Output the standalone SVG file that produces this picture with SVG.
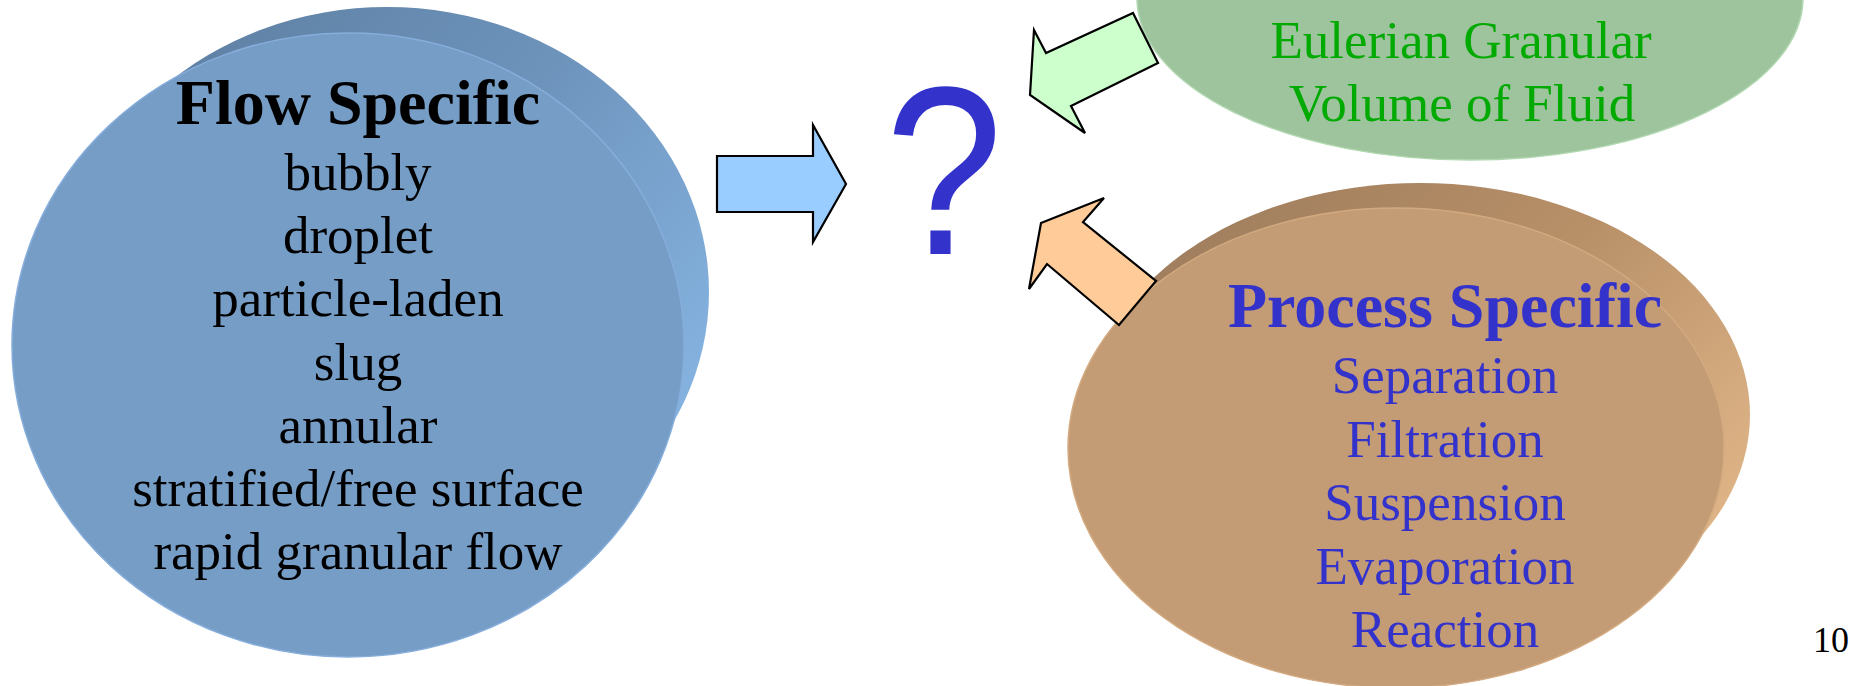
<svg xmlns="http://www.w3.org/2000/svg" width="1850" height="686" viewBox="0 0 1850 686">
  <style>
    .serif { font-family: "Liberation Serif", "Times New Roman", serif; text-anchor: middle; }
    .head { font-size: 64px; font-weight: bold; }
    .item { font-size: 53px; }
    .arrow { stroke: #000000; stroke-width: 2.2; stroke-linejoin: miter; }
  </style>
  <defs>
    <linearGradient id="blueSide" x1="0" y1="0" x2="1" y2="0.7">
      <stop offset="0" stop-color="#5a7a9c"/>
      <stop offset="0.55" stop-color="#6d93bb"/>
      <stop offset="1" stop-color="#86b4e2"/>
    </linearGradient>
    <linearGradient id="brownSide" x1="0" y1="0" x2="1" y2="0.7">
      <stop offset="0" stop-color="#98785a"/>
      <stop offset="0.55" stop-color="#b89068"/>
      <stop offset="1" stop-color="#e0b688"/>
    </linearGradient>
  </defs>

  <!-- Flow specific disk: side face behind, front face on top -->
  <g id="flow-specific">
    <ellipse cx="387" cy="292" rx="322" ry="285" fill="url(#blueSide)"/>
    <ellipse cx="348" cy="345" rx="336" ry="312" fill="#759dc6" stroke="#86addb" stroke-width="1.5"/>
    <g class="serif" fill="#000000">
      <text class="head" x="358" y="124">Flow Specific</text>
      <text class="item" x="358" y="190">bubbly</text>
      <text class="item" x="358" y="253">droplet</text>
      <text class="item" x="358" y="316">particle-laden</text>
      <text class="item" x="358" y="380">slug</text>
      <text class="item" x="358" y="443">annular</text>
      <text class="item" x="358" y="506">stratified/free surface</text>
      <text class="item" x="358" y="569">rapid granular flow</text>
    </g>
  </g>

  <!-- Model disk (top right) -->
  <g id="models">
    <ellipse cx="1470" cy="-2" rx="333" ry="162" fill="#9dc49d" stroke="#b2d8b2" stroke-width="1.5"/>
    <g class="serif item" fill="#00aa00">
      <text x="1461" y="58">Eulerian Granular</text>
      <text x="1462" y="121">Volume of Fluid</text>
    </g>
  </g>

  <!-- Process specific disk -->
  <g id="process-specific">
    <ellipse cx="1420" cy="415" rx="330" ry="232" fill="url(#brownSide)"/>
    <ellipse cx="1396" cy="448" rx="328" ry="240" fill="#c39b74" stroke="#d3aa80" stroke-width="1.5"/>
    <g class="serif" fill="#3333cc">
      <text class="head" x="1445" y="327">Process Specific</text>
      <text class="item" x="1445" y="393">Separation</text>
      <text class="item" x="1445" y="457">Filtration</text>
      <text class="item" x="1445" y="520">Suspension</text>
      <text class="item" x="1445" y="584">Evaporation</text>
      <text class="item" x="1445" y="647">Reaction</text>
    </g>
  </g>

  <!-- Arrows pointing at the open question -->
  <g id="connectors">
    <polygon class="arrow" fill="#99ccff" points="717,156 813,156 813,125 846,184 813,242 813,212 717,212"/>
    <polygon class="arrow" fill="#ccffcc" points="1030,95 1034,30 1046,53 1133,13 1158,63 1071,106 1085,133"/>
    <polygon class="arrow" fill="#ffcc99" points="1041,223 1104,198 1083,222 1156,281 1119,325 1047,264 1029,289"/>
  </g>

  <g id="question" transform="translate(944,0) scale(0.88,1) translate(-944,0)">
    <text x="944" y="254" text-anchor="middle" font-family="Liberation Sans, Arial, sans-serif" font-size="240" fill="#3333cc">?</text>
  </g>

  <text id="page-number" x="1813" y="652" font-family="Liberation Serif, Times New Roman, serif" font-size="36" fill="#000000">10</text>
</svg>
